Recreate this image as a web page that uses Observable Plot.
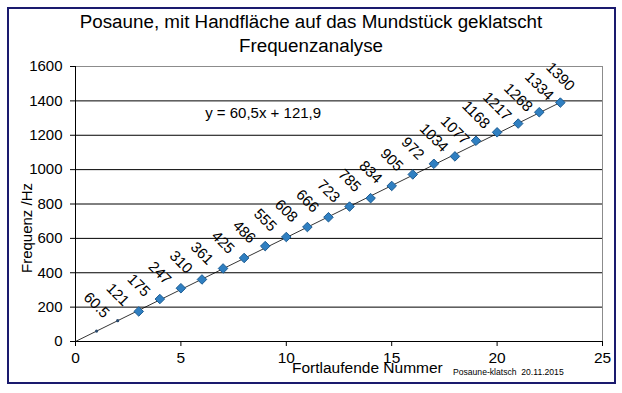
<!DOCTYPE html>
<html>
<head>
<meta charset="utf-8">
<script src="https://cdn.jsdelivr.net/npm/d3@7"></script>
<script src="https://cdn.jsdelivr.net/npm/@observablehq/plot@0.6"></script>
<style>
  body { margin: 0; background: #fff; }
  #wrap { position: relative; width: 622px; height: 393px; font-family: "Liberation Sans", Arial, sans-serif; overflow: hidden; }
  #border { position: absolute; left: 7px; top: 7px; width: 605px; height: 373px; border: 2px solid #1a1a6e; box-sizing: content-box; }
  .t { position: absolute; white-space: nowrap; color: #000; }
  #title { left: 0; width: 622px; top: 10px; text-align: center; font-size: 18.8px; line-height: 24px; }
  #ylab { left: 26px; top: 228px; font-size: 15px; transform: translate(-50%, -50%) rotate(-90deg); }
  #xlab { left: 292px; top: 360px; font-size: 15.5px; line-height: 15px; }
  #cap { left: 453px; top: 368px; font-size: 8.6px; line-height: 8px; }
  #chart { position: absolute; left: 0; top: 0; }
</style>
</head>
<body>
<div id="wrap">
  <div id="chart"></div>
  <div id="border"></div>
  <div class="t" id="title">Posaune, mit Handfläche auf das Mundstück geklatscht<br>Frequenzanalyse</div>
  <div class="t" id="ylab">Frequenz /Hz</div>
  <div class="t" id="xlab">Fortlaufende Nummer</div>
  <div class="t" id="cap">Posaune-klatsch&nbsp; 20.11.2015</div>
</div>
<script>
const nummer = [1,2,3,4,5,6,7,8,9,10,11,12,13,14,15,16,17,18,19,20,21,22,23];
const frequenz = [60.5,121,175,247,310,361,425,486,555,608,666,723,785,834,905,972,1034,1077,1168,1217,1268,1334,1390];
const labels = ["60.5","121","175","247","310","361","425","486","555","608","666","723","785","834","905","972","1034","1077","1168","1217","1268","1334","1390"];
const trendX = [0, 23];
const trendY = [0, 1391];
const xTicks = [0,5,10,15,20,25];
const yTicks = [0,200,400,600,800,1000,1200,1400,1600];
const equation = "y = 60,5x + 121,9";

const data = nummer.map((n, i) => ({n, f: frequenz[i], label: labels[i], i}));
const trend = trendX.map((x, i) => ({x, y: trendY[i]}));
const font = "Liberation Sans, Arial, sans-serif";

const chart = Plot.plot({
  width: 622,
  height: 393,
  marginLeft: 75,
  marginRight: 20,
  marginTop: 66,
  marginBottom: 52,
  style: {fontFamily: font, fontSize: "15px", color: "#000", background: "transparent"},
  x: {domain: [0, 25], ticks: xTicks},
  y: {domain: [0, 1600], ticks: yTicks},
  marks: [
    Plot.ruleY(yTicks.filter(d => d > 0 && d < 1600), {stroke: "#000", strokeWidth: 1}),
    Plot.ruleY([1600], {stroke: "#8c8c8c", strokeWidth: 1}),
    Plot.ruleX([25], {stroke: "#8c8c8c", strokeWidth: 1}),
    Plot.axisY({ticks: yTicks, tickFormat: d => String(d), tickSize: 5, tickPadding: 8, label: null, fontSize: 15, stroke: "#000"}),
    Plot.axisX({ticks: xTicks, tickFormat: d => String(d), tickSize: 5, tickPadding: 5, label: null, fontSize: 15.5, stroke: "#000"}),
    Plot.ruleX([0], {stroke: "#000", strokeWidth: 1}),
    Plot.ruleY([0], {stroke: "#000", strokeWidth: 1}),
    Plot.line(trend, {x: "x", y: "y", stroke: "#000", strokeWidth: 0.8}),
    Plot.dot(data.filter(d => d.i < 2), {x: "n", y: "f", r: 1.6, fill: "#2a4a6e", stroke: "none"}),
    Plot.dot(data.filter(d => d.i >= 2), {x: "n", y: "f", symbol: "diamond2", r: 4.3, fill: "#2f7fc1", stroke: "#1d5c92", strokeWidth: 1}),
    Plot.text(data, {x: "n", y: "f", text: "label", rotate: 45, dy: -26, fontSize: 15, fill: "#000", textAnchor: "middle"}),
    Plot.text([equation], {x: 8.9, y: 1326, text: d => d, fontSize: 15, fill: "#000", textAnchor: "middle"})
  ]
});
document.getElementById("chart").appendChild(chart);
</script>
</body>
</html>
